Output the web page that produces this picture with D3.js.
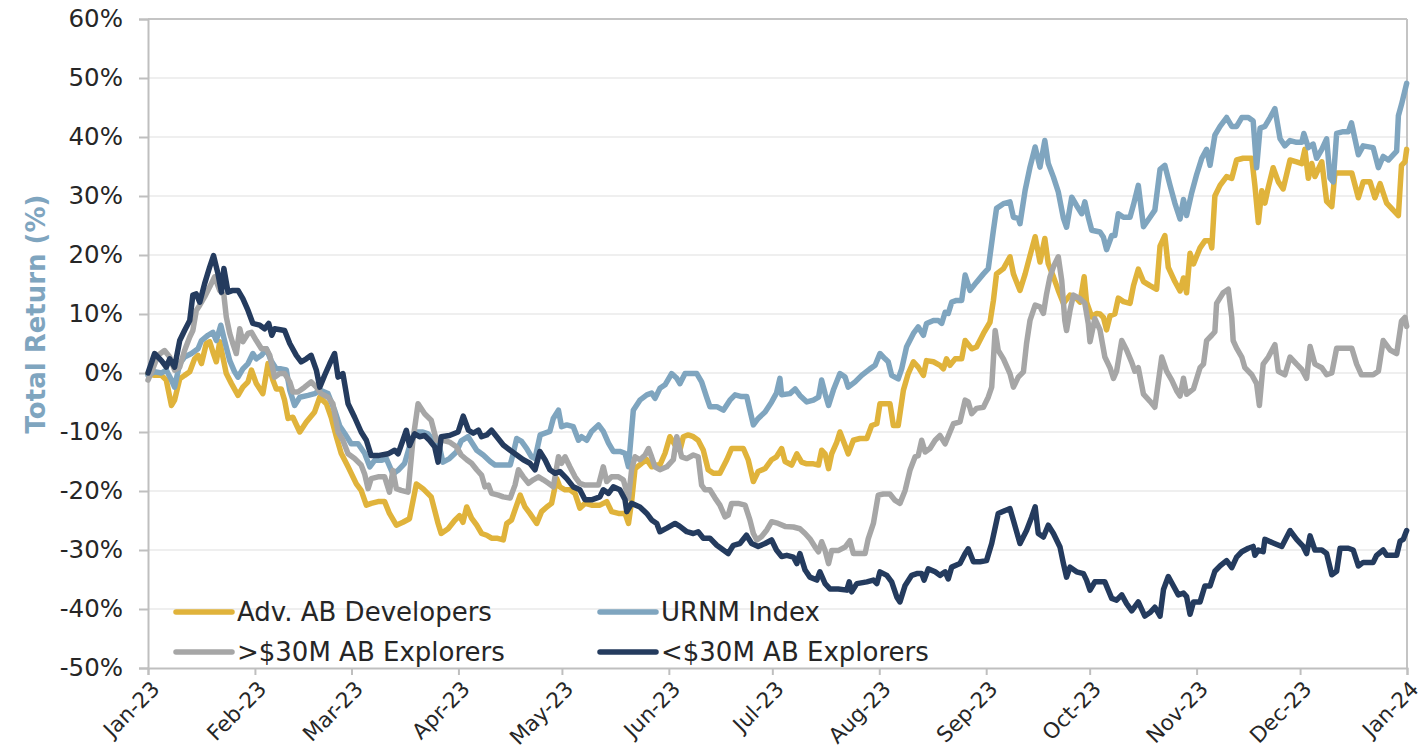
<!DOCTYPE html>
<html>
<head>
<meta charset="utf-8">
<script src="https://d3js.org/d3.v7.min.js"></script>
<style>
  body { margin: 0; background: #fff; }
  text { font-family: "DejaVu Sans", sans-serif; fill: #262626; }
  .tick line { stroke: #bfbfbf; stroke-width: 2; }
  .domain { stroke: #bfbfbf; stroke-width: 2; }
</style>
</head>
<body>
<div id="chart"></div>
<script>
// x = days since 1 Jan 2023, y = total return in %
var devPts = [[0,-0.1],[1.9,-0.4],[3.9,-0.4],[5.3,-1.2],[6.8,-5.5],[7.7,-4.6],[9.2,-1.0],[10.6,-0.4],[12.1,0.2],[13.5,2.4],[14.5,3.0],[15.5,1.6],[16.9,5.0],[17.9,5.3],[18.8,3.6],[19.8,1.9],[20.8,5.3],[21.7,2.7],[22.7,-0.1],[24.2,-1.8],[26.1,-3.8],[27.5,-2.4],[29,-1.5],[30,0.5],[31.4,-1.8],[33.3,-3.5],[34.8,1.6],[36.2,-1.2],[37.2,-2.7],[38.6,-2.7],[39.6,-4.6],[40.6,-7.7],[42,-7.5],[44,-10],[45.9,-8.3],[48.3,-6.6],[49.8,-4.1],[51.7,-5.2],[53.1,-7.5],[54.6,-10.8],[56,-13.6],[58,-15.9],[60.4,-18.8],[61.8,-19.9],[63.3,-22.4],[64.7,-22.1],[66.7,-21.8],[68.6,-21.8],[70,-23.8],[72,-25.8],[73.9,-25.3],[75.8,-24.7],[77.8,-18.8],[79.7,-19.6],[82.1,-21],[84.1,-25.5],[85,-27.2],[87,-26.4],[88.9,-25],[90.3,-24.2],[91.3,-25.3],[92.4,-22.7],[93.8,-24.6],[95.3,-25.8],[96.7,-27.2],[98.2,-27.5],[99.6,-28],[101.1,-28],[103,-28.3],[104,-25.5],[105.4,-24.9],[106.4,-23.2],[107.9,-20.7],[109.3,-22.7],[110.7,-23.8],[112.7,-25.5],[114.1,-23.5],[115.6,-22.7],[117,-22.1],[118.5,-17.9],[119.4,-19.3],[120.9,-19.8],[122.3,-19.8],[123.8,-20.4],[125.2,-22.9],[126.7,-22.1],[128.6,-22.4],[131,-22.4],[133,-21.8],[134.4,-23.5],[136.4,-23.8],[138.3,-23.8],[139.3,-25.5],[140.2,-21.8],[141.2,-16.2],[143.1,-15.3],[144.6,-14.7],[146,-15.9],[147.5,-15.6],[148.4,-15.6],[149.9,-13.6],[151.3,-10.8],[152.8,-12.2],[154.2,-13.1],[155.2,-10.8],[156.6,-10.5],[158.1,-10.8],[159.5,-11.4],[161,-13.1],[162.4,-16.4],[163.9,-17],[165.8,-17],[167.8,-14.7],[169.2,-12.8],[170.7,-12.8],[172.6,-12.8],[174,-14.7],[175.5,-18.4],[176.9,-16.7],[178.9,-16.2],[180.8,-14.7],[182.2,-14.2],[183.7,-12.8],[184.7,-15.0],[186.6,-15.6],[188.1,-13.7],[189.5,-15.1],[191,-15.4],[192.9,-15.4],[194.4,-15.6],[195.3,-13.1],[196.3,-13.7],[197.3,-16.2],[198.2,-13.7],[199.7,-11.7],[200.6,-10],[202.1,-12.3],[203,-13.7],[204.5,-11.4],[206.4,-11.1],[208.4,-11.1],[209.8,-8.9],[211.3,-8.6],[212.2,-5.2],[213.7,-5.2],[215.1,-5.2],[216.1,-8.9],[217.5,-8.9],[219,-2.9],[220.4,-0.1],[221.9,1.9],[223.3,1.0],[224.8,-0.4],[225.7,2.1],[227.7,1.9],[229.6,1.3],[230.6,0.7],[231.5,2.4],[232.5,1.3],[234,2.4],[235.9,2.4],[236.9,5.5],[238.8,4.1],[240.2,4.4],[242.2,6.7],[244.1,8.6],[245.1,12.3],[246,16.8],[248,17.7],[249.9,19.7],[250.9,16.8],[252.8,14],[254.3,16.8],[255.7,19.9],[257.2,23.1],[258.6,18.8],[260,22.8],[261,18.5],[262.5,16.3],[263.9,14],[265.4,11.8],[267.3,13.2],[268.8,12.9],[270.2,12],[271.4,16.3],[272.1,12],[273.6,9.5],[275,10.1],[276,10],[277,9.4],[277.9,7.3],[278.9,9.7],[280.3,10],[281.3,12.7],[282.8,12.1],[284.7,11.8],[285.7,14.8],[287.1,17.6],[288.6,15.5],[290.5,14.8],[292.4,14.2],[293.4,21.5],[294.8,23.3],[295.8,17.9],[297.7,15.5],[299.2,13.9],[300.2,16.1],[301.1,13.6],[302.1,20.3],[303.1,18.5],[305,21.2],[306.4,22.4],[307.9,22.4],[308.4,21.2],[309.3,30],[310.8,31.8],[312.7,33.3],[314.2,33],[315.6,36.1],[317.5,36.4],[320,36.4],[320.9,31.8],[321.9,25.5],[322.9,30.9],[323.8,28.8],[324.8,31.5],[326.2,34.8],[327.7,32.4],[329.1,31.2],[331.1,36.1],[333,35.8],[334.5,35.5],[335.4,37.9],[336.4,33],[337.4,35.5],[338.3,33.3],[340.3,35.8],[341.7,29.1],[343.2,28.2],[344.1,33.9],[346.5,33.9],[349,33.9],[350.9,29.7],[352.3,32.4],[354.3,32.4],[355.7,29.7],[357.2,32.1],[359.1,28.8],[361,27.6],[362.5,26.7],[363.4,35.2],[364.4,35.8],[364.9,37.9]];

var urnmPts = [[0,-0.4],[1.9,0.2],[3.9,0],[5.3,0.5],[6.8,-1.2],[7.7,-2.4],[9.2,1.6],[10.6,2.7],[12.6,3.3],[14.5,4.1],[15.5,5.5],[17.4,6.4],[18.8,6.9],[19.8,5.5],[21.1,8.1],[22.2,5.5],[23.7,2.1],[25.1,0.2],[26.1,-0.7],[27.5,0.7],[29,1.6],[30.4,3.3],[31.4,2.4],[32.9,3.0],[34.3,4.1],[35.7,2.1],[37.2,0.7],[38.6,0.7],[40.1,0.5],[41.1,-2.9],[42.5,-5.5],[44,-4.1],[46.4,-3.8],[48.3,-3.5],[49.8,-2.9],[52.2,-3.5],[54.1,-6.3],[55.6,-9],[57,-10.2],[58.9,-12],[60.9,-12],[62.8,-13.6],[64.3,-15.9],[65.7,-14.8],[67.6,-14.8],[69.1,-14.5],[71,-17.1],[72.5,-16.5],[74.4,-15.3],[75.8,-12.5],[77.3,-10],[79.7,-10],[81.2,-10.3],[82.6,-11.4],[84.5,-12.5],[85.5,-15.1],[87.4,-14.5],[89.4,-13.4],[90.8,-11.5],[92.8,-10.8],[95.3,-13.1],[97.2,-13.9],[99.2,-15],[100.6,-15.6],[103,-15.6],[105,-15.6],[105.9,-13.6],[106.9,-11.1],[108.3,-11.6],[109.8,-12.8],[111.2,-14.2],[112.2,-14.5],[113.7,-10.5],[115.1,-10.2],[116.5,-9.9],[117.5,-7.7],[119,-6.3],[119.9,-9.1],[121.4,-8.8],[123.3,-9.1],[124.8,-11.4],[125.7,-10.8],[127.2,-11.4],[128.6,-9.9],[130.6,-8.8],[132,-9.9],[133.5,-11.9],[134.9,-13.3],[136.8,-13.3],[138.3,-13.6],[139.3,-15.9],[140.7,-6.3],[142.6,-4.6],[144.6,-3.7],[146,-3.4],[147,-4.3],[148.4,-2.6],[149.9,-2],[151.8,-0.1],[153.3,-0.9],[154.2,-1.8],[155.7,-0.1],[157.6,-0.1],[159.1,-0.1],[160.5,-1.5],[161.9,-4],[162.9,-5.7],[164.9,-5.7],[166.8,-6.3],[168.7,-4.6],[170.2,-3.7],[172.1,-4],[173.6,-4],[174.5,-6.3],[175.5,-8.8],[176.9,-7.7],[178.9,-6.6],[180.8,-4.9],[182.2,-3.4],[183.2,-0.9],[183.7,-3.7],[186.1,-3.5],[187.6,-2.7],[189,-3.8],[191,-4.9],[192.9,-4.6],[194.4,-4.1],[195.3,-1.2],[196.3,-3.5],[197.3,-5.5],[198.7,-2.9],[200.6,-0.1],[202.1,-0.7],[203,-2.4],[205,-1.5],[206.9,-0.4],[209.3,0.7],[210.8,1.3],[212.2,3.3],[213.7,2.4],[214.6,1.9],[215.6,-0.4],[217.5,-1.0],[218.5,0.7],[219.9,4.4],[221.9,6.7],[223.3,7.8],[224.8,6.4],[225.7,8.4],[227.7,8.9],[229.1,8.9],[230.1,8.4],[231.1,10.3],[232,10.1],[233,12],[234.4,12.3],[235.9,12.3],[236.9,16.6],[238.3,14],[240.2,15.4],[242.2,16.8],[243.6,17.7],[245.1,24.2],[246,27.9],[248,28.7],[249.9,29],[250.9,26.4],[252.3,26.2],[252.8,25.3],[254.3,31],[255.7,34.9],[257.2,38.3],[258.6,34.9],[260,39.4],[261,35.5],[262.5,33.2],[263.9,30.7],[265.4,26.2],[266.3,24.7],[267.8,29.8],[269.2,28.4],[270.7,27],[271.6,29],[272.6,26.4],[273.6,24.2],[276,23.9],[277,23],[277.9,20.9],[279.4,23.3],[280.3,23.3],[281.3,27],[282.8,26.4],[284.7,26.4],[285.7,28.5],[287.1,31.8],[288.6,24.8],[290.5,26.4],[291.9,27.6],[293.4,34.5],[294.8,35.2],[296.3,31.8],[297.7,28.8],[299.2,26.1],[300.2,29.4],[301.1,26.7],[302.6,30.6],[304,33.6],[305.5,36.4],[306.9,37.9],[307.9,35.2],[309.3,40.3],[310.8,41.8],[312.7,43.3],[314.2,41.8],[315.6,41.8],[317.1,43.3],[319,43.3],[320.4,42.7],[321.4,34.8],[322.4,41.5],[323.8,41.8],[325.3,43.3],[326.7,44.8],[328.2,39.7],[329.6,38.5],[331.1,39.4],[333,39.1],[334.5,39.1],[335.1,40.6],[336.4,38.2],[337.8,38.8],[338.8,36.4],[340.3,37.9],[341.7,39.7],[342.7,33],[343.6,32.4],[344.6,40.6],[346.5,40.9],[348,40.9],[348.9,42.4],[350.9,37],[352.3,38.5],[355.2,38.2],[356.7,34.8],[358.1,36.7],[359.6,36.1],[362,37.6],[362.5,43.6],[363.4,45.5],[364.9,49.1]];

var bigExpPts = [[0,-1.2],[1.4,0.7],[2.9,3],[4.8,3.8],[6.3,2.7],[7.7,0.5],[9.2,1],[10.6,3.8],[12.1,6.1],[13,7.2],[14,10.6],[15,11.5],[16.4,12.9],[17.9,14.6],[19.3,16.3],[20.8,14],[22,13.2],[22.7,9.5],[23.7,6.7],[24.6,5],[25.6,3.3],[26.6,7.5],[27.5,5.3],[29,6.7],[30,6.9],[31.4,5.5],[32.9,4.1],[34.3,4.1],[35.3,3],[36.7,-0.7],[38.2,-0.1],[39.6,-0.1],[41.1,-1.5],[42,-3.2],[43.5,-3.2],[45.4,-2.4],[47.3,-1.5],[48.8,-2.4],[50.2,-3.5],[52.2,-4.1],[53.6,-5.2],[55.1,-10],[56.5,-11.4],[58,-13.7],[59.9,-14.5],[61.8,-15.6],[62.8,-17.1],[63.8,-19.6],[64.7,-17.9],[66.7,-17.6],[68.6,-17.6],[70,-20.2],[71,-16.5],[72,-19.6],[73.4,-19.9],[75.4,-20.2],[76.8,-11.4],[78.3,-5.2],[80.2,-6.9],[82.1,-8],[83.6,-11.4],[85.5,-11.4],[87.4,-11.7],[89.4,-12.5],[90.8,-13.9],[92.4,-14.7],[93.8,-15.3],[95.3,-16.4],[96.7,-17.3],[97.7,-19.3],[98.7,-19],[99.6,-20.4],[101.6,-20.7],[103,-21],[105,-21.2],[106.4,-19],[107.4,-16.4],[108.8,-17.6],[110.3,-18.7],[111.7,-18.1],[113.2,-17.6],[114.6,-18.1],[116.1,-18.7],[117.5,-19.3],[119,-14.2],[119.9,-15.3],[120.9,-14.2],[122.3,-15.9],[123.8,-17.6],[125.2,-18.7],[126.7,-19],[128.6,-19],[130.6,-19],[132,-15.9],[133,-18.4],[134.4,-17.6],[136.4,-17.6],[137.8,-18.1],[139.3,-21.2],[140.2,-16.4],[141.2,-14.2],[142.6,-14.7],[144.1,-13.9],[145.1,-12.8],[146,-14.2],[147,-15.9],[148.4,-16.4],[150.4,-15.9],[152.3,-14.7],[153.3,-10.8],[154.7,-14.2],[156.2,-14.5],[158.1,-13.9],[159.5,-14.2],[160.5,-19],[161.5,-19.8],[162.9,-19.8],[164.4,-21.2],[165.8,-22.4],[167.3,-24.4],[168.2,-24.1],[169.2,-22.1],[171.1,-22.1],[173.1,-22.4],[174.5,-24.9],[175.5,-27.2],[176.5,-28.3],[177.9,-27.7],[179.4,-26.6],[180.8,-25.2],[182.7,-25.5],[184.7,-26],[187.1,-26.1],[189,-26.4],[190.5,-27.2],[191.9,-28.1],[193.4,-29.5],[194.4,-30.3],[195.3,-28.6],[196.3,-30.1],[197.3,-32.3],[198.2,-30.1],[200.1,-30.1],[202.1,-29.5],[203.5,-28.4],[204.5,-30.6],[206.4,-30.6],[207.9,-30.6],[208.8,-28.1],[210.3,-25.5],[211.7,-20.7],[213.2,-20.5],[215.1,-20.5],[216.6,-21.6],[218,-22.1],[219.5,-19.9],[220.9,-16.5],[222.4,-14.2],[223.3,-14],[224.3,-11.4],[225.3,-13.4],[226.7,-12.8],[228.2,-11.4],[229.6,-10.6],[231.1,-12],[232.5,-10],[233.5,-8.6],[235.4,-8.3],[236.9,-4.6],[237.8,-4.9],[238.8,-6.9],[240.2,-6],[242.2,-5.8],[243.6,-4.1],[244.6,-2.4],[245.6,7.2],[246.5,3.8],[248,2.4],[249.9,-0.1],[250.9,-2.4],[252.3,-0.7],[253.8,0.2],[254.7,5],[255.7,8.9],[257.2,11.5],[258.6,11.2],[259.6,10.1],[260.5,13.4],[261.5,16.3],[262.5,18],[263.9,19.7],[264.9,15.7],[265.8,8.9],[266.3,7.2],[267.3,10.6],[268.3,13.2],[270.2,12.6],[271.6,11.8],[272.6,8.4],[273.1,5.3],[274.5,9.2],[276,7.3],[277.4,2.7],[278.9,0.9],[279.9,-0.9],[280.8,0.3],[282.3,5.5],[283.7,3.9],[285.2,1.8],[286.1,0.3],[287.1,0.9],[288.6,-3.6],[290.5,-4.8],[291.9,-5.8],[293.9,2.7],[295.3,0.3],[296.8,-1.2],[298.2,-3],[299.2,-3.9],[300.2,-0.9],[301.1,-3.6],[303.1,-2.7],[305,0.9],[306,1.5],[306.9,5.5],[308.4,6.4],[309.3,7],[309.8,11.8],[311.7,13.6],[313.2,14.2],[314.2,9.4],[314.6,5.5],[315.6,4.2],[317.1,2.7],[318,0.9],[320,-0.3],[321.4,-1.8],[322.2,-5.5],[323.3,1.5],[324.8,2.7],[326.7,4.8],[327.7,0.3],[329.6,-0.3],[331.1,2.7],[333,1.5],[334.5,0.6],[335.9,-0.9],[336.9,4.5],[338.3,1.5],[340.3,0.9],[341.7,-0.3],[343.2,0],[344.6,4.2],[346.5,4.2],[349,4.2],[350.4,1.5],[351.8,-0.3],[353.3,-0.3],[355.2,-0.3],[356.7,0.3],[358.1,5.5],[360.1,3.9],[362,3.3],[363.4,8.8],[364.4,9.4],[364.9,7.9]];

var smallExpPts = [[0,0],[1.9,3.3],[3.9,2.1],[5.3,1],[6.3,2.4],[7.7,1],[9.2,5.5],[10.6,7.2],[12.1,8.9],[13,13.2],[14,13.4],[15,12],[16.4,15.1],[17.9,18],[19,19.9],[20.3,16.8],[21.3,13.7],[22,17.7],[23.2,13.7],[24.6,14],[26.1,14],[27.5,12.6],[29,10.6],[30.4,8.4],[32.4,8.1],[33.8,7.5],[35,8.4],[35.9,6.4],[36.7,7.5],[39.6,7.2],[41.1,5],[43,3],[44.4,1.9],[45.9,2.4],[47.3,3],[48.8,0.5],[49.8,-2.4],[51.2,-0.4],[52.7,1.6],[54.1,3.3],[55.1,-0.7],[56.5,-0.1],[58,-5.2],[59.9,-7.5],[61.8,-10],[63.3,-11.4],[64.7,-14],[66.7,-14],[69.6,-13.7],[71.5,-13.1],[72.5,-13.7],[73.9,-11.4],[74.9,-9.7],[75.8,-12.3],[77.3,-10.3],[78.7,-10.8],[80.2,-10.6],[81.6,-11.4],[83.1,-12.5],[84.1,-15.1],[85,-10.8],[87.4,-10.6],[89.9,-10],[91.4,-7.3],[92.9,-9.7],[94.3,-10.2],[95.8,-9.7],[96.7,-10.8],[98.2,-10.5],[99.6,-9.7],[101.1,-10.8],[103,-12.2],[105,-13.1],[106.9,-13.9],[108.8,-14.7],[110.7,-15.3],[112.2,-16.4],[113.6,-13.3],[115.1,-14.7],[116.5,-16.4],[118,-17],[119.4,-16.7],[121.4,-17.9],[123.3,-19.3],[125.2,-19.8],[126.7,-21.5],[128.6,-21.5],[131,-21],[132,-19.8],[133.5,-20.4],[134.9,-19.3],[136.8,-19.8],[138.3,-21.5],[138.8,-23.5],[140.2,-22.1],[142.6,-22.7],[144.6,-23.8],[146,-24.9],[147.5,-25.5],[148.4,-26.9],[150.4,-26.3],[152.8,-25.5],[154.2,-26],[156.2,-26.9],[158.1,-27.2],[159.5,-26.9],[161,-28],[162.9,-28],[164.9,-29.2],[166.8,-30],[168.2,-30.6],[169.7,-29.2],[171.6,-28.9],[173.5,-27.5],[175,-28.9],[176.9,-29.4],[178.9,-28.9],[180.8,-28.3],[182.2,-30],[183.7,-31.1],[185.2,-30.9],[187.1,-31.2],[188.1,-32.3],[189,-30.6],[190.5,-33.4],[191.9,-34.6],[193.9,-35.1],[194.8,-33.7],[196.3,-35.7],[197.7,-36.6],[200.1,-36.6],[202.6,-36.8],[203.3,-35.4],[204,-37.1],[205.5,-35.7],[208.4,-35.4],[210.3,-35.1],[211.3,-35.7],[212.2,-33.7],[214.2,-34.3],[215.6,-35.4],[217.1,-38],[218,-38.8],[219.5,-36],[221.4,-34.3],[222.9,-34],[224.3,-34],[225,-35.1],[226.2,-33.2],[228.2,-33.7],[229.6,-34.3],[231.1,-33.7],[232,-34.9],[233,-32.9],[235.4,-32.3],[236.9,-30.6],[237.8,-29.8],[239.3,-32],[241.2,-32],[243.1,-31.8],[244.6,-28.9],[246.5,-23.8],[248.5,-23.3],[249.9,-23],[250.9,-25],[252.8,-28.9],[254.7,-26.7],[256.2,-24.4],[257.2,-22.7],[258.1,-27.2],[259.6,-27.8],[261,-25.8],[262.5,-27.2],[264.4,-29.5],[265.4,-32.3],[266.3,-34.6],[267.3,-32.9],[269.2,-33.7],[271.2,-34],[272.1,-35.1],[273.1,-36.8],[274.5,-35.4],[277.4,-35.4],[279.4,-38.2],[280.8,-38.5],[282.3,-37.6],[283.7,-39.1],[285.2,-40.3],[287.1,-38.8],[289,-41.2],[290.5,-40.6],[291.9,-39.7],[293.4,-41.2],[294.4,-36.7],[295.8,-34.5],[297.3,-36.1],[298.7,-37.6],[300.2,-37.3],[301.1,-37.9],[302.1,-40.9],[303.1,-38.8],[305,-38.8],[306.4,-36.1],[307.9,-36.1],[309.3,-33.6],[310.8,-32.7],[312.7,-31.8],[314.2,-33],[315.6,-31.2],[317.1,-30.3],[319,-29.7],[320.4,-29.4],[320.9,-30.9],[321.9,-30],[323.3,-30.3],[323.8,-28.2],[326.2,-28.8],[328.7,-29.4],[331.1,-26.7],[333,-28.2],[334.9,-29.4],[335.9,-30.6],[336.9,-27.6],[338.3,-30],[340.3,-30],[341.7,-30.6],[343.2,-34.2],[344.6,-33.6],[345.6,-29.7],[348,-29.7],[349.4,-30],[350.9,-32.7],[352.3,-32.1],[355.2,-32.1],[356.2,-30.9],[358.1,-30],[359.1,-30.9],[362,-30.9],[363,-28.5],[363.9,-28.2],[364.9,-26.7]];

var seriesNames = ["Adv. AB Developers", "URNM Index", ">$30M AB Explorers", "<$30M AB Explorers"];
var seriesColors = ["#e0b33b", "#7fa5bf", "#a6a6a6", "#243b5e"];
var yTicks = [-50, -40, -30, -20, -10, 0, 10, 20, 30, 40, 50, 60];

var W = 1427, H = 751;
var plotL = 148, plotR = 1407, plotT = 19, plotB = 668;

var svg = d3.select('#chart').append('svg').attr('width', W).attr('height', H);

var start = new Date(2023, 0, 1);
var toDate = function(d){ return new Date(start.getTime() + d * 864e5); };

var x = d3.scaleTime().domain([start, new Date(2024, 0, 1)]).range([plotL, plotR]);
var y = d3.scaleLinear().domain([-50, 60]).range([plotB, plotT]);

// gridlines
svg.append('g').selectAll('line').data(yTicks.filter(function(t){ return t > -50 && t < 60; }))
  .enter().append('line')
  .attr('x1', plotL).attr('x2', plotR)
  .attr('y1', function(d){ return y(d); }).attr('y2', function(d){ return y(d); })
  .attr('stroke', '#efefef').attr('stroke-width', 2);

// frame top / right
svg.append('line').attr('x1', plotL).attr('x2', plotR).attr('y1', plotT).attr('y2', plotT).attr('stroke', '#c4c4c4').attr('stroke-width', 2);
svg.append('line').attr('x1', plotR).attr('x2', plotR).attr('y1', plotT).attr('y2', plotB).attr('stroke', '#c4c4c4').attr('stroke-width', 2);

// y axis
var yAxis = d3.axisLeft(y).tickValues(yTicks).tickFormat(function(d){ return d + '%'; }).tickSize(9).tickPadding(16);
var gy = svg.append('g').attr('transform', 'translate(' + plotL + ',0)').call(yAxis);
gy.selectAll('text').style('font-size', '24.5px').style('fill', '#262626');

// x axis
var xAxis = d3.axisBottom(x).ticks(d3.timeMonth.every(1)).tickFormat(d3.timeFormat('%b-%y')).tickSize(7);
var gx = svg.append('g').attr('transform', 'translate(0,' + plotB + ')').call(xAxis);
gx.selectAll('text')
  .style('font-size', '21.5px').style('fill', '#262626')
  .attr('text-anchor', 'end')
  .attr('dy', '0.35em').attr('y', 0).attr('x', 0)
  .attr('transform', 'translate(7,17) rotate(-45)');

// y title
svg.append('text')
  .attr('transform', 'translate(45,314) rotate(-90)')
  .attr('text-anchor', 'middle')
  .style('font-size', '26px').style('font-weight', 'bold').style('fill', '#7fa5bf')
  .text('Total Return (%)');

// lines
var line = d3.line().x(function(d){ return x(toDate(d[0])); }).y(function(d){ return y(d[1]); });
var allSeries = [devPts, urnmPts, bigExpPts, smallExpPts];
allSeries.forEach(function(pts, i){
  svg.append('path').datum(pts)
    .attr('fill', 'none').attr('stroke', seriesColors[i]).attr('stroke-width', 5.5)
    .attr('stroke-linejoin', 'round').attr('stroke-linecap', 'round')
    .attr('d', line);
});

// legend
var legPos = [[176, 612], [600, 612], [176, 652], [600, 652]];
seriesNames.forEach(function(name, i){
  var g = svg.append('g').attr('transform', 'translate(' + legPos[i][0] + ',' + legPos[i][1] + ')');
  g.append('line').attr('x1', 0).attr('x2', 56).attr('y1', 0).attr('y2', 0)
    .attr('stroke', seriesColors[i]).attr('stroke-width', 5.5).attr('stroke-linecap', 'round');
  g.append('text').attr('x', 61).attr('y', 0).attr('dy', '0.36em')
    .style('font-size', '26px').text(name);
});
</script>
</body>
</html>
